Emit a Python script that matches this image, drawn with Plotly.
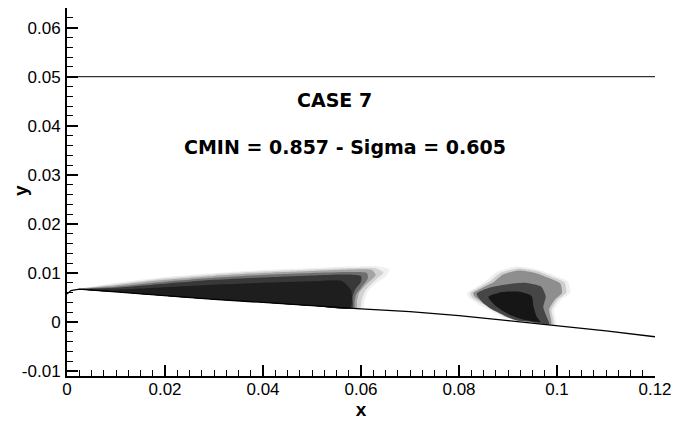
import plotly.graph_objects as go

# ---------------- data ----------------
x_tickvals = [0, 0.02, 0.04, 0.06, 0.08, 0.10, 0.12]
x_ticktext = ["0", "0.02", "0.04", "0.06", "0.08", "0.1", "0.12"]
y_tickvals = [-0.01, 0, 0.01, 0.02, 0.03, 0.04, 0.05, 0.06]
y_ticktext = ["-0.01", "0", "0.01", "0.02", "0.03", "0.04", "0.05", "0.06"]

# hydrofoil suction side
foil_x = [0.0, 0.0008, 0.0025, 0.010, 0.020, 0.030, 0.040, 0.050, 0.060, 0.070, 0.080, 0.090, 0.100, 0.110, 0.120]
foil_y = [0.0057, 0.0064, 0.0067, 0.0061, 0.0053, 0.0046, 0.0040, 0.0033, 0.0027, 0.0021, 0.0013, 0.0003, -0.0007, -0.0018, -0.0030]

# upper wall line
wall_x = [0.0, 0.12]
wall_y = [0.05, 0.05]

# attached sheet cavity: nested outlines (outer faint -> dark core)
sheet_layers = [
    dict(color="#f0f0f0",
         x=[0.0025, 0.010, 0.020, 0.030, 0.040, 0.050, 0.058, 0.063, 0.0658, 0.0652, 0.0632, 0.0614, 0.0607, 0.0603,
            0.050, 0.040, 0.030, 0.020, 0.010, 0.0025],
         y=[0.0068, 0.0080, 0.0092, 0.0100, 0.0106, 0.0110, 0.0113, 0.0114, 0.0107, 0.0094, 0.0080, 0.0062, 0.0042, 0.0027,
            0.0033, 0.0040, 0.0046, 0.0053, 0.0061, 0.0067]),
    dict(color="#d2d2d2",
         x=[0.0025, 0.010, 0.020, 0.030, 0.040, 0.050, 0.058, 0.0628, 0.0646, 0.0630, 0.0609, 0.0601, 0.0598,
            0.050, 0.040, 0.030, 0.020, 0.010, 0.0025],
         y=[0.0068, 0.0077, 0.0089, 0.0097, 0.0103, 0.0107, 0.0110, 0.0110, 0.0101, 0.0086, 0.0064, 0.0043, 0.0028,
            0.0033, 0.0040, 0.0046, 0.0053, 0.0061, 0.0067]),
    dict(color="#a4a4a4",
         x=[0.0025, 0.010, 0.020, 0.030, 0.040, 0.050, 0.058, 0.0622, 0.0630, 0.0612, 0.0596, 0.0592, 0.0591,
            0.050, 0.040, 0.030, 0.020, 0.010, 0.0025],
         y=[0.0068, 0.0075, 0.0086, 0.0094, 0.0100, 0.0104, 0.0107, 0.0106, 0.0096, 0.0078, 0.0059, 0.0042, 0.0028,
            0.0033, 0.0040, 0.0046, 0.0053, 0.0061, 0.0067]),
    dict(color="#6e6e6e",
         x=[0.0025, 0.010, 0.020, 0.030, 0.040, 0.050, 0.058, 0.0612, 0.0614, 0.0602, 0.0590, 0.0587, 0.0586,
            0.050, 0.040, 0.030, 0.020, 0.010, 0.0025],
         y=[0.0068, 0.0072, 0.0082, 0.0090, 0.0096, 0.0100, 0.0102, 0.0100, 0.0089, 0.0072, 0.0056, 0.0041, 0.0028,
            0.0033, 0.0040, 0.0046, 0.0053, 0.0061, 0.0067]),
    dict(color="#383838",
         x=[0.0025, 0.010, 0.020, 0.030, 0.040, 0.050, 0.057, 0.0600, 0.0600, 0.0588, 0.0583, 0.0582,
            0.050, 0.040, 0.030, 0.020, 0.010, 0.0025],
         y=[0.0067, 0.0070, 0.0078, 0.0086, 0.0091, 0.0095, 0.0097, 0.0094, 0.0082, 0.0066, 0.0051, 0.0029,
            0.0033, 0.0040, 0.0046, 0.0053, 0.0061, 0.0067]),
    dict(color="#1e1e1e",
         x=[0.0030, 0.010, 0.020, 0.030, 0.040, 0.050, 0.056, 0.0580, 0.0578,
            0.050, 0.040, 0.030, 0.020, 0.010, 0.0030],
         y=[0.0066, 0.0066, 0.0071, 0.0076, 0.0080, 0.0083, 0.0084, 0.0064, 0.0029,
            0.0033, 0.0040, 0.0046, 0.0053, 0.0061, 0.0066]),
]

# shed vapour cloud: nested outlines
cloud_layers = [
    dict(color="#efefef",
         x=[0.0816, 0.0838, 0.0857, 0.0878, 0.0918, 0.0960, 0.0994, 0.1022, 0.1027, 0.1008, 0.0994, 0.0998,
            0.0950, 0.0898, 0.0876, 0.0837, 0.0820, 0.0816],
         y=[0.0059, 0.0073, 0.0085, 0.0103, 0.0113, 0.0107, 0.0095, 0.0083, 0.0060, 0.0045, 0.0024, -0.0006,
            -0.0002, 0.0007, 0.0017, 0.0038, 0.0050, 0.0059]),
    dict(color="#cdcdcd",
         x=[0.0823, 0.0844, 0.0863, 0.0884, 0.0920, 0.0958, 0.0990, 0.1015, 0.1019, 0.1002, 0.0989, 0.0993,
            0.0950, 0.0900, 0.0879, 0.0843, 0.0826, 0.0823],
         y=[0.0059, 0.0072, 0.0083, 0.0100, 0.0109, 0.0104, 0.0092, 0.0081, 0.0060, 0.0046, 0.0025, -0.0005,
            -0.0002, 0.0008, 0.0019, 0.0040, 0.0051, 0.0059]),
    dict(color="#8e8e8e",
         x=[0.0829, 0.0850, 0.0870, 0.0890, 0.0922, 0.0956, 0.0985, 0.1007, 0.1010, 0.0996, 0.0984, 0.0988,
            0.0950, 0.0902, 0.0882, 0.0848, 0.0832, 0.0829],
         y=[0.0059, 0.0071, 0.0081, 0.0097, 0.0105, 0.0100, 0.0089, 0.0078, 0.0059, 0.0046, 0.0026, -0.0004,
            -0.0001, 0.0010, 0.0021, 0.0041, 0.0052, 0.0059]),
    dict(color="#464646",
         x=[0.0836, 0.0862, 0.0900, 0.0935, 0.0968, 0.0977, 0.0972, 0.0980, 0.0984,
            0.0950, 0.0918, 0.0893, 0.0867, 0.0847, 0.0836],
         y=[0.0058, 0.0070, 0.0077, 0.0080, 0.0072, 0.0052, 0.0030, 0.0008, -0.0004,
            0.0000, 0.0003, 0.0013, 0.0026, 0.0041, 0.0058]),
    dict(color="#161616",
         x=[0.0860, 0.0888, 0.0920, 0.0948, 0.0952, 0.0958, 0.0966,
            0.0935, 0.0903, 0.0877, 0.0860],
         y=[0.0051, 0.0061, 0.0062, 0.0053, 0.0032, 0.0012, 0.0000,
            0.0004, 0.0015, 0.0031, 0.0051]),
]

title_case = "CASE 7"
title_params = "CMIN = 0.857 - Sigma = 0.605"
x_title = "x"
y_title = "y"

# ---------------- figure ----------------
fig = go.Figure()

for layer in sheet_layers + cloud_layers:
    fig.add_trace(go.Scatter(
        x=layer["x"], y=layer["y"], mode="lines", fill="toself",
        fillcolor=layer["color"],
        line=dict(width=0, color=layer["color"], shape="spline", smoothing=0.6),
        hoverinfo="skip", showlegend=False))

fig.add_trace(go.Scatter(x=wall_x, y=wall_y, mode="lines",
                         line=dict(color="#333333", width=1.2), showlegend=False))
fig.add_trace(go.Scatter(x=foil_x, y=foil_y, mode="lines",
                         line=dict(color="black", width=1.3), showlegend=False))

fig.add_annotation(x=0.0546, y=0.0452, xref="x", yref="y", text="<b>" + title_case + "</b>",
                   showarrow=False, font=dict(family="DejaVu Sans", size=19, color="black"))
fig.add_annotation(x=0.0568, y=0.0357, xref="x", yref="y", text="<b>" + title_params + "</b>",
                   showarrow=False, font=dict(family="DejaVu Sans", size=19, color="black"))
# y axis title (placed precisely)
fig.add_annotation(x=-0.080, y=0.505, xref="paper", yref="paper", text="<b>" + y_title + "</b>",
                   textangle=-90, showarrow=False, xanchor="center", yanchor="middle",
                   font=dict(family="Liberation Sans", size=19, color="black"))

axis_common = dict(
    showline=True, linecolor="black", linewidth=2, mirror=False,
    showgrid=False, zeroline=False, automargin=False,
    ticks="inside", ticklen=11, tickwidth=2, tickcolor="black",
    tickfont=dict(family="Liberation Sans", size=17, color="black"),
)

fig.update_xaxes(range=[0, 0.12], tickvals=x_tickvals, ticktext=x_ticktext,
                 ticklabelstandoff=-3,
                 minor=dict(ticks="inside", ticklen=6, tickwidth=1, tickcolor="black", tick0=0, dtick=0.0025),
                 title=dict(text="<b>" + x_title + "</b>", font=dict(family="Liberation Sans", size=19, color="black"), standoff=0),
                 **axis_common)
fig.update_yaxes(range=[-0.011, 0.064], tickvals=y_tickvals, ticktext=y_ticktext,
                 ticklabelstandoff=1,
                 minor=dict(ticks="inside", ticklen=6, tickwidth=1, tickcolor="black", tick0=0, dtick=0.002),
                 **axis_common)

fig.update_layout(
    width=673, height=421,
    margin=dict(l=67, r=18, t=8, b=45),
    plot_bgcolor="white", paper_bgcolor="white",
    showlegend=False,
)

fig.write_html("out.html", config={"displayModeBar": False},
               post_script="document.body.style.margin='0';document.body.style.overflow='hidden';")
